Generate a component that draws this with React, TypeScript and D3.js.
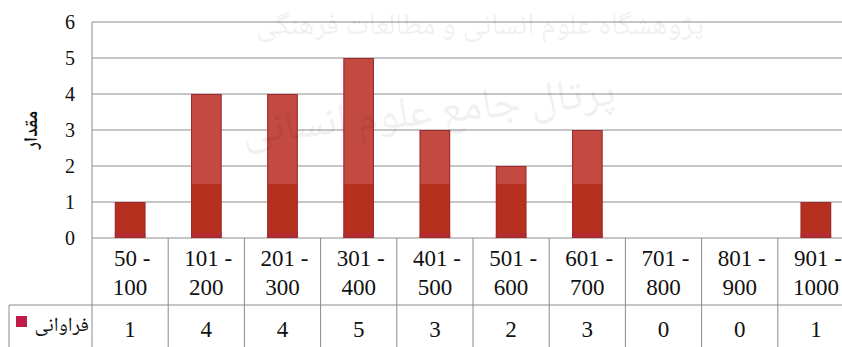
import React from "react";
import * as d3 from "d3";

const categories = [
  ["50 -", "100"],
  ["101 -", "200"],
  ["201 -", "300"],
  ["301 -", "400"],
  ["401 -", "500"],
  ["501 -", "600"],
  ["601 -", "700"],
  ["701 -", "800"],
  ["801 -", "900"],
  ["901 -", "1000"],
];
const values = [1, 4, 4, 5, 3, 2, 3, 0, 0, 1];
const yTicks = [0, 1, 2, 3, 4, 5, 6];
const seriesName = "فراوانی";
const yTitle = "مقدار";

const W = 842;
const H = 347;
const left = 92;
const top = 22;
const base = 238;
const rowTop = 305;
const colW = 76.2;

export default function App() {
  const keys = categories.map((c) => c.join(" "));
  const x = d3
    .scaleBand<string>()
    .domain(keys)
    .range([left, left + colW * keys.length])
    .paddingInner(0)
    .paddingOuter(0);
  const y = d3.scaleLinear().domain([0, 6]).range([base, top]);
  const barW = x.bandwidth() * 0.4;
  const split = y(1.5);
  const serif = `"Liberation Serif", "Times New Roman", serif`;
  const arabic = `"Noto Naskh Arabic", "DejaVu Sans", sans-serif`;
  const grid = "#8c8c8c";

  return (
    <svg
      width={W}
      height={H}
      style={{ position: "absolute", left: 0, top: 0, background: "#fff" }}
    >
      {/* horizontal gridlines */}
      {yTicks.map((t) => (
        <line key={t} x1={left} x2={W} y1={y(t)} y2={y(t)} stroke={grid} strokeWidth={1} />
      ))}
      {/* tick labels */}
      {yTicks.map((t) => (
        <text
          key={t}
          x={75}
          y={y(t)}
          dy="0.35em"
          textAnchor="end"
          style={{ fontFamily: serif, fontSize: 20 }}
          fill="#111"
        >
          {t}
        </text>
      ))}
      {/* y title */}
      <text
        transform={`translate(30,${(top + base) / 2}) rotate(-90)`}
        textAnchor="middle"
        dy="0.35em"
        style={{ fontFamily: arabic, fontWeight: "bold", fontSize: 19 }}
        fill="#111"
      >
        {yTitle}
      </text>

      {/* bars */}
      {keys.map((k, i) => {
        const v = values[i];
        if (v <= 0) return null;
        const cx = (x(k) as number) + x.bandwidth() / 2;
        const bx = cx - barW / 2;
        const yt = y(v);
        const ys = Math.max(split, yt);
        return (
          <g key={k}>
            {yt < split && (
              <rect x={bx} y={yt} width={barW} height={split - yt} fill="#c34a40" />
            )}
            <rect x={bx} y={ys} width={barW} height={base - ys} fill="#b6301f" />
            <rect x={bx} y={base - 5} width={barW} height={5} fill="#b32a3a" opacity={0.7} />
            <rect
              x={bx + 0.5}
              y={yt + 0.5}
              width={barW - 1}
              height={base - yt - 1}
              fill="none"
              stroke="#9e2a2e"
              strokeWidth={1}
            />
          </g>
        );
      })}

      {/* table frame */}
      <line x1={left} x2={left} y1={top} y2={H} stroke={grid} />
      <line x1={9} x2={W} y1={rowTop} y2={rowTop} stroke={grid} />
      <line x1={9} x2={9} y1={rowTop} y2={H} stroke={grid} />
      {keys.map((k, i) =>
        i === 0 ? null : (
          <line
            key={k}
            x1={x(k) as number}
            x2={x(k) as number}
            y1={base}
            y2={H}
            stroke={grid}
          />
        )
      )}

      {/* category labels and table values */}
      {keys.map((k, i) => {
        const cx = (x(k) as number) + x.bandwidth() / 2;
        return (
          <g key={k} style={{ fontFamily: serif, fontSize: 23 }} fill="#111" textAnchor="middle">
            <text x={cx + 2} y={258} dy="0.35em">
              {categories[i][0]}
            </text>
            <text x={cx} y={287} dy="0.35em">
              {categories[i][1]}
            </text>
            <text x={cx} y={329} dy="0.35em">
              {values[i]}
            </text>
          </g>
        );
      })}

      {/* legend cell */}
      <rect x={16} y={316} width={11} height={11} fill="#c01a48" />
      <text
        x={89}
        y={331}
        textAnchor="end"
        style={{ fontFamily: arabic, fontSize: 20 }}
        fill="#111"
      >
        {seriesName}
      </text>

      {/* faint watermark */}
      <g style={{ fontFamily: arabic }} fill="#000" opacity={0.06} textAnchor="middle">
        <text x={480} y={34} fontSize={30}>
          پژوهشگاه علوم انسانی و مطالعات فرهنگی
        </text>
        <text x={430} y={124} fontSize={44} transform="rotate(-6 430 124)">
          پرتال جامع علوم انسانی
        </text>
      </g>
    </svg>
  );
}
